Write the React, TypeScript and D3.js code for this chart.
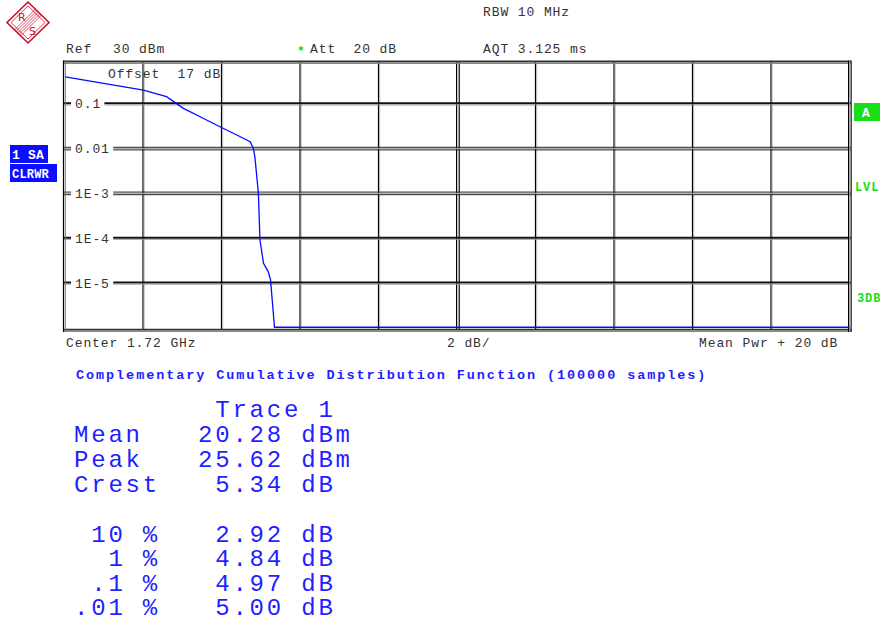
import * as d3 from "d3";

// CCDF trace (x: dB above mean power, y: probability)
const traceDb = [0.02, 2.01, 2.6, 3.03, 3.62, 3.96, 4.39, 4.73, 4.81, 4.85, 4.94, 4.98, 5.07, 5.19, 5.25, 5.35, 20];
const traceProb = [0.4, 0.203, 0.144, 0.079, 0.0435, 0.0308, 0.0201, 0.0143, 0.0102, 0.0066, 0.001, 9.1e-5, 2.75e-5, 1.8e-5, 1.17e-5, 1.03e-6, 1.03e-6];

const xTicks = [2, 4, 6, 8, 12, 14, 16, 18];
const yTicks = [0.1, 0.01, 1e-3, 1e-4, 1e-5];
const yTickLabels = ["0.1", "0.01", "1E-3", "1E-4", "1E-5"];
const doubleLineTicks = [0.01, 1e-3];

const statLabels = ["Mean", "Peak", "Crest"];
const statValues = ["20.28 dBm", "25.62 dBm", " 5.34 dB"];
const pctLabels = [" 10 %", "  1 %", " .1 %", ".01 %"];
const pctValues = [" 2.92 dB", " 4.84 dB", " 4.97 dB", " 5.00 dB"];

const mono = "'Liberation Mono', 'Courier New', monospace";
const grey = "#333";
const blue = "#1f1fff";
const green = "#19dd19";

export default function App() {
  const x = d3.scaleLinear().domain([0, 20]).range([64.5, 849.5]);
  const y = d3.scaleLog().domain([1, 1e-6]).range([59, 327.8]);

  const line = d3
    .line<number>()
    .x((d) => x(traceDb[d]))
    .y((d) => y(traceProb[d]));
  const path = line(d3.range(traceDb.length)) || "";

  const txt = { fontFamily: mono, fontSize: 13, letterSpacing: 0.9, fill: grey, whiteSpace: "pre" as const };
  const big = { fontFamily: mono, fontSize: 24, letterSpacing: 2.8, fill: blue, whiteSpace: "pre" as const };

  const left = 63.5;
  const right = 851;

  return (
    <svg width={880} height={620} style={{ position: "absolute", left: 0, top: 0, background: "#fff" }}>
      {/* R&S logo */}
      <g stroke="#c8102e" fill="none">
        <polygon points="28,2 49,22.5 28,43 7,22.5" strokeWidth={1.6} />
        <polygon points="28,6 45,22.5 28,39 11,22.5" strokeWidth={0.8} />
        {[-3, -1.5, 0, 1.5, 3].map((o) => (
          <line key={o} x1={17.5 + o} y1={33 + o} x2={38.5 + o} y2={12 + o} strokeWidth={0.7} />
        ))}
        <text x={18} y={21} fill="#c8102e" stroke="none" fontFamily="'DejaVu Sans', sans-serif" fontSize={11}>R</text>
        <text x={29} y={35} fill="#c8102e" stroke="none" fontFamily="'DejaVu Sans', sans-serif" fontSize={11}>S</text>
      </g>

      {/* header */}
      <text x={483} y={16} style={txt}>RBW 10 MHz</text>
      <text x={66} y={53} style={txt}>Ref</text>
      <text x={113} y={53} style={txt}>30 dBm</text>
      <text x={297} y={55} style={{ ...txt, fill: green, fontWeight: "bold" }}>*</text>
      <text x={310} y={53} style={txt}>Att  20 dB</text>
      <text x={483} y={53} style={txt}>AQT 3.125 ms</text>

      {/* side labels */}
      <rect x={10} y={145} width={38} height={18} fill="#0d0dff" />
      <rect x={10} y={164} width={47} height={18} fill="#0d0dff" />
      <text x={12} y={158.5} style={{ ...txt, fill: "#fff", fontWeight: "bold", letterSpacing: 0.2 }}>1 SA</text>
      <text x={12} y={177.5} style={{ ...txt, fill: "#fff", fontWeight: "bold", letterSpacing: 0.2, fontSize: 12 }}>CLRWR</text>
      <rect x={854} y={103} width={30} height={18} fill={green} />
      <text x={862} y={116.5} style={{ ...txt, fill: "#fff", fontWeight: "bold" }}>A</text>
      <text x={855} y={191} style={{ ...txt, fill: green, fontWeight: "bold", fontSize: 12 }}>LVL</text>
      <text x={857} y={302} style={{ ...txt, fill: green, fontWeight: "bold", fontSize: 12 }}>3DB</text>

      {/* vertical grid */}
      {xTicks.map((t) => (
        <g key={t}>
          <line x1={x(t)} x2={x(t)} y1={61} y2={330} stroke="#000" strokeWidth={1.2} />
          <line x1={x(t) + 1.2} x2={x(t) + 1.2} y1={61} y2={330} stroke="#aaa" strokeWidth={0.8} />
        </g>
      ))}
      <line x1={x(10) - 0.5} x2={x(10) - 0.5} y1={61} y2={330} stroke="#000" strokeWidth={1} />
      <line x1={x(10) + 1} x2={x(10) + 1} y1={61} y2={330} stroke="#999" strokeWidth={1} />
      <line x1={x(10) + 2.3} x2={x(10) + 2.3} y1={61} y2={330} stroke="#000" strokeWidth={1} />

      {/* horizontal grid */}
      {yTicks.map((t) =>
        doubleLineTicks.includes(t) ? (
          <g key={t}>
            <line x1={left} x2={right} y1={y(t) - 1.3} y2={y(t) - 1.3} stroke="#222" strokeWidth={1} />
            <line x1={left} x2={right} y1={y(t)} y2={y(t)} stroke="#aaa" strokeWidth={1} />
            <line x1={left} x2={right} y1={y(t) + 1.3} y2={y(t) + 1.3} stroke="#222" strokeWidth={1} />
          </g>
        ) : (
          <g key={t}>
            <line x1={left} x2={right} y1={y(t) - 0.5} y2={y(t) - 0.5} stroke="#111" strokeWidth={2} />
            <line x1={left} x2={right} y1={y(t) + 1.2} y2={y(t) + 1.2} stroke="#999" strokeWidth={0.9} />
          </g>
        )
      )}

      {/* frame */}
      <line x1={left} x2={right} y1={61.5} y2={61.5} stroke="#333" strokeWidth={2} />
      <line x1={left} x2={right} y1={63.3} y2={63.3} stroke="#888" strokeWidth={1.2} />
      <line x1={left} x2={right} y1={329.3} y2={329.3} stroke="#333" strokeWidth={1.2} />
      <line x1={left} x2={right} y1={331} y2={331} stroke="#888" strokeWidth={2.2} />
      <line x1={63.5} x2={63.5} y1={60.5} y2={332} stroke="#000" strokeWidth={1.2} />
      <line x1={65.3} x2={65.3} y1={60.5} y2={332} stroke="#777" strokeWidth={1} />
      <line x1={848.5} x2={848.5} y1={60.5} y2={332} stroke="#000" strokeWidth={1} />
      <line x1={849.8} x2={849.8} y1={60.5} y2={332} stroke="#999" strokeWidth={1.2} />
      <line x1={851.2} x2={851.2} y1={60.5} y2={332} stroke="#000" strokeWidth={1} />

      {/* y tick labels */}
      {yTicks.map((t, i) => (
        <g key={t}>
          <rect x={71} y={y(t) - 6} width={yTickLabels[i].length * 8.8 + 7} height={12} fill="#fff" />
          <text x={75} y={y(t) + 4.5} style={txt}>{yTickLabels[i]}</text>
        </g>
      ))}

      <text x={108} y={78} style={txt}>Offset  17 dB</text>

      {/* trace */}
      <path d={path} fill="none" stroke="#0a0aff" strokeWidth={1.3} />

      {/* footer of the diagram */}
      <text x={66} y={347} style={txt}>Center 1.72 GHz</text>
      <text x={447} y={347} style={txt}>2 dB/</text>
      <text x={699} y={347} style={txt}>Mean Pwr + 20 dB</text>

      <text x={76} y={378.5} style={{ fontFamily: mono, fontSize: 13.5, fontWeight: "bold", letterSpacing: 1.92, fill: blue, whiteSpace: "pre" }}>
        Complementary Cumulative Distribution Function (100000 samples)
      </text>

      {/* statistics */}
      <text x={198} y={417.3} style={big}> Trace 1</text>
      {statLabels.map((s, i) => (
        <g key={s}>
          <text x={74} y={442.3 + i * 24.7} style={big}>{s}</text>
          <text x={198} y={442.3 + i * 24.7} style={big}>{statValues[i]}</text>
        </g>
      ))}
      {pctLabels.map((s, i) => (
        <g key={s}>
          <text x={74} y={541.5 + i * 24.6} style={big}>{s}</text>
          <text x={198} y={541.5 + i * 24.6} style={big}>{pctValues[i]}</text>
        </g>
      ))}
    </svg>
  );
}
